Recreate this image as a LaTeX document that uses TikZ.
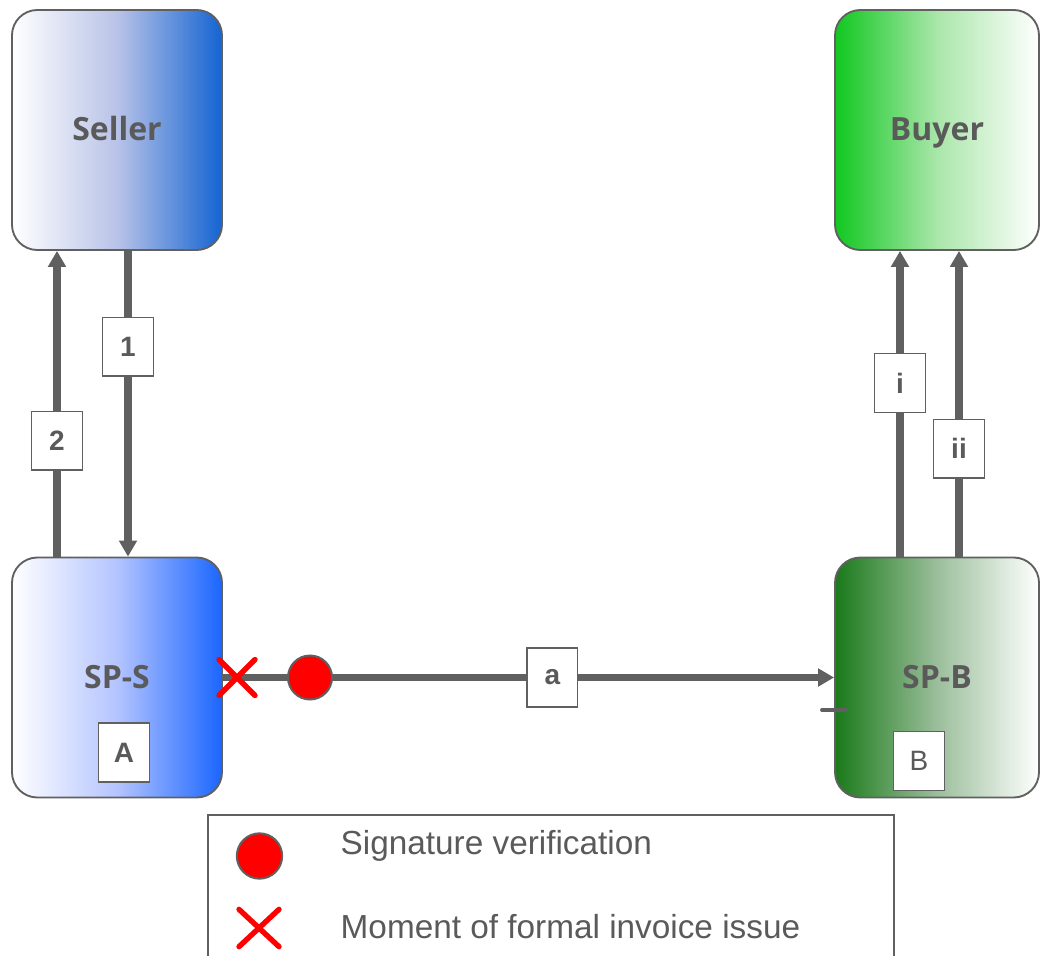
\documentclass[tikz,border=0pt]{standalone}
\usepackage{fontspec}
\setmainfont{Liberation Sans}
\newfontfamily\titlefont{Open Sans}
\usetikzlibrary{arrows.meta,shapes.misc}
\definecolor{txt}{HTML}{5A5A5A}
\definecolor{ln}{HTML}{606060}
\definecolor{sellR}{RGB}{20,100,210}
\definecolor{sellM}{RGB}{185,195,232}
\definecolor{spsR}{RGB}{26,102,255}
\definecolor{spsM}{RGB}{180,196,255}
\definecolor{buyL}{RGB}{16,200,32}
\definecolor{buyM}{RGB}{170,230,170}
\definecolor{spbL}{RGB}{26,122,26}
\definecolor{spbM}{RGB}{155,190,155}
\begin{document}
\begin{tikzpicture}[x=0.75pt,y=-0.75pt,
  party/.style={draw=ln,line width=1.4pt,rounded corners=19pt,minimum width=157.5pt,minimum height=180pt,inner sep=0pt,text height=21pt,text depth=4.5pt,font=\titlefont\bfseries\fontsize{24}{28}\selectfont,text=txt},
  lab/.style={draw=ln,line width=1.2pt,fill=white,minimum width=38pt,minimum height=44pt,inner sep=0pt,font=\bfseries\fontsize{21}{25}\selectfont,text=txt},
  arr/.style={draw=ln,line width=5.4pt,-{Triangle[width=13pt,length=12pt]}},
  xmark/.style={cross out,draw=red,line width=4pt,line cap=round,minimum width=23pt,minimum height=23pt,inner sep=0pt},
  sigdot/.style={circle,fill=red,draw=ln,line width=1.5pt,minimum size=33pt,inner sep=0pt},
  legtext/.style={anchor=west,text=txt,font=\fontsize{25}{30}\selectfont}]
\clip (0,0) rectangle (1040,956);
% parties
\node[party,left color=white,right color=sellR,middle color=sellM] (seller) at (117,130) {Seller};
\node[party,left color=buyL,right color=white,middle color=buyM,minimum width=153pt] (buyer) at (937,130) {Buyer};
\node[party,left color=white,right color=spsR,middle color=spsM] (sps) at (117,677.5) {SP-S};
\node[party,left color=spbL,right color=white,middle color=spbM,minimum width=153pt] (spb) at (937,677.5) {SP-B};
\node[lab] (A) at (124,752.5) {A};
\node[lab,font=\fontsize{21}{25}\selectfont] (B) at (919,761) {B};
% x positions
\coordinate (x2) at (57,0);
\coordinate (x1) at (128,0);
\coordinate (xi) at (900,0);
\coordinate (xii) at (959,0);
% arrows
\draw[arr] (sps.north -| x2) -- node[lab,pos=0.379] (l2) {2} (seller.south -| x2);
\draw[arr] (seller.south -| x1) -- node[lab,pos=0.314] (l1) {1} (sps.north -| x1);
\draw[arr] (spb.north -| xi) -- node[lab,pos=0.568] (li) {i} (buyer.south -| xi);
\draw[arr] (spb.north -| xii) -- node[lab,pos=0.353] (lii) {ii} (buyer.south -| xii);
\draw[arr] (sps.east) -- node[lab,pos=0.539] (la) {a} (spb.west);
\draw[draw=ln,line width=3pt,line cap=round] ([shift={(-12,32.5)}]spb.west) coordinate (t0) -- ([shift={(12,32.5)}]spb.west) coordinate (t1);
% marks
\node[xmark] (issue) at (237,677.5) {};
\node[sigdot] (sig) at (310,677.5) {};
% legend
\draw[ln,line width=1.2pt] (208,815) rectangle (894,1000);
\node[sigdot,minimum width=33pt,minimum height=34pt] (lsig) at (259.5,856) {};
\node[legtext] (lt1) at (336,846) {Signature verification};
\node[xmark,minimum width=26pt,minimum height=24pt] (lx) at (259,928) {};
\node[legtext] (lt2) at (336,927) {Moment of formal invoice issue};
\end{tikzpicture}
\end{document}
